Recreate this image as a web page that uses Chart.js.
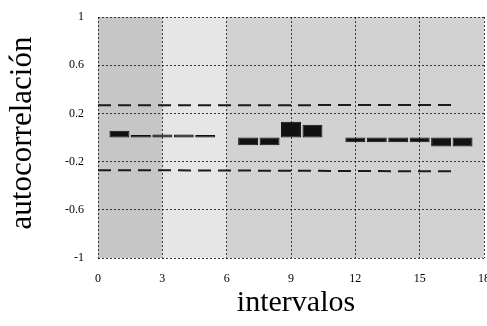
<!DOCTYPE html>
<html>
<head>
<meta charset="utf-8">
<script src="https://cdn.jsdelivr.net/npm/chart.js@4/dist/chart.umd.min.js"></script>
<style>
  html, body { margin: 0; padding: 0; background: #fff; }
  #wrap { width: 487px; height: 326px; }
</style>
</head>
<body>
<div id="wrap"><canvas id="acf" width="487" height="326"></canvas></div>
<script>
// retardos y valores de autocorrelación
const lags = [1, 2, 3, 4, 5, 6, 7, 8, 9, 10, 11, 12, 13, 14, 15, 16, 17];
const acf = [0.055, 0.02, 0.025, 0.025, 0.02, 0, -0.065, -0.065, 0.13, 0.105, 0, -0.04, -0.04, -0.04, -0.04, -0.075, -0.075];

// bandas de confianza (líneas discontinuas)
const bandX = [0, 3, 6, 9, 12, 15, 16.6];
const bandUpper = [0.268, 0.268, 0.268, 0.268, 0.27, 0.27, 0.27];
const bandLower = [-0.272, -0.272, -0.274, -0.276, -0.278, -0.28, -0.28];

const xTicks = ["0", "3", "6", "9", "12", "15", "18"];
const yTicks = ["-1", "-0.6", "-0.2", "0.2", "0.6", "1"];

const serif = "'Liberation Serif', 'DejaVu Serif', serif";

const toXY = (xs, ys) => xs.map((x, i) => ({ x: x, y: ys[i] }));

// fondo gris del área del gráfico
const bgPlugin = {
  id: "bg",
  beforeDraw(chart) {
    const { ctx, chartArea: a, scales } = chart;
    const xs = scales.x;
    const bands = [
      [0, 3, "#c6c6c6"],
      [3, 6, "#e6e6e6"],
      [6, 18, "#d2d2d2"]
    ];
    ctx.save();
    bands.forEach(b => {
      const x0 = xs.getPixelForValue(b[0]);
      const x1 = xs.getPixelForValue(b[1]);
      ctx.fillStyle = b[2];
      ctx.fillRect(x0, a.top, x1 - x0, a.bottom - a.top);
    });
    ctx.restore();
  }
};

// títulos de los ejes
const titlePlugin = {
  id: "titles",
  afterDraw(chart) {
    const { ctx, chartArea: a } = chart;
    ctx.save();
    ctx.fillStyle = "#000";
    ctx.font = "30px " + serif;
    ctx.textAlign = "center";
    ctx.textBaseline = "middle";
    ctx.fillText("intervalos", (a.left + a.right) / 2 + 5, 303);
    ctx.font = "31px " + serif;
    ctx.translate(23, 133);
    ctx.rotate(-Math.PI / 2);
    ctx.fillText("autocorrelación", 0, 0);
    ctx.restore();
  }
};

new Chart(document.getElementById("acf"), {
  type: "bar",
  data: {
    datasets: [
      {
        type: "bar",
        data: toXY(lags, acf),
        backgroundColor: "#111",
        borderColor: "#111",
        borderWidth: 1,
        borderSkipped: false,
        barPercentage: 0.93,
        categoryPercentage: 1,
        order: 1
      },
      {
        type: "line",
        data: toXY(bandX, bandUpper),
        borderColor: "#1a1a1a",
        borderWidth: 2,
        borderDash: [13, 7],
        pointRadius: 0,
        fill: false,
        order: 2
      },
      {
        type: "line",
        data: toXY(bandX, bandLower),
        borderColor: "#1a1a1a",
        borderWidth: 2,
        borderDash: [13, 7],
        pointRadius: 0,
        fill: false,
        order: 2
      }
    ]
  },
  options: {
    responsive: false,
    animation: false,
    layout: { padding: { left: 0, right: 3, top: 17, bottom: 0 } },
    plugins: {
      legend: { display: false },
      tooltip: { enabled: false }
    },
    scales: {
      x: {
        type: "linear",
        min: 0,
        max: 18,
        offset: false,
        afterBuildTicks: s => { s.ticks = xTicks.map(t => ({ value: Number(t) })); },
        ticks: {
          padding: 14,
          color: "#000",
          font: { family: serif, size: 12 },
          callback: (v, i) => xTicks[i]
        },
        grid: { offset: false, color: "rgba(0,0,0,0.75)", lineWidth: 1, drawTicks: false },
        border: { display: false, dash: [2, 2] },
        afterFit: s => { s.height = 68; s.paddingLeft = 0; s.paddingRight = 0; }
      },
      y: {
        min: -1,
        max: 1,
        afterBuildTicks: s => { s.ticks = yTicks.map(t => ({ value: Number(t) })); },
        ticks: {
          padding: 14,
          color: "#000",
          font: { family: serif, size: 12 },
          callback: (v, i) => yTicks[i]
        },
        grid: { color: "rgba(0,0,0,0.75)", lineWidth: 1, drawTicks: false },
        border: { display: false, dash: [2, 2] },
        afterFit: s => { s.width = 98; s.paddingTop = 0; s.paddingBottom = 0; }
      }
    }
  },
  plugins: [bgPlugin, titlePlugin]
});
</script>
</body>
</html>
